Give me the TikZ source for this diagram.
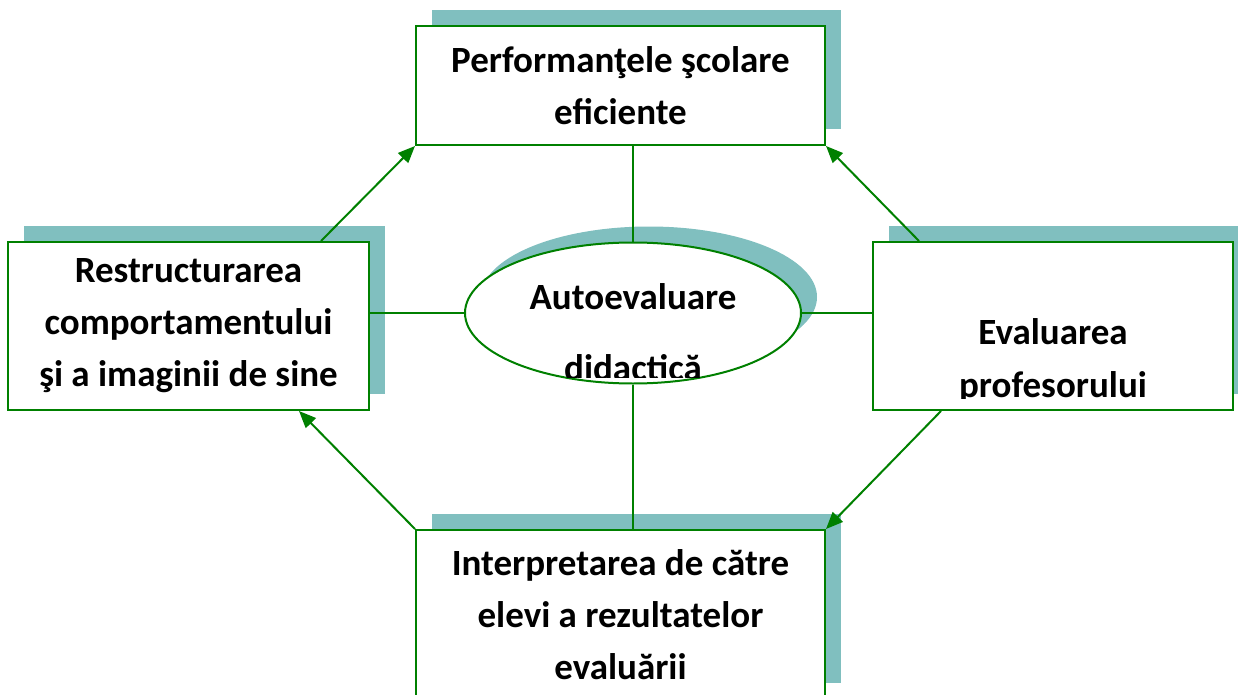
\documentclass[tikz,border=0pt]{standalone}
\usepackage{fontspec}
\setmainfont{Carlito}
\usetikzlibrary{arrows.meta,shadows,shapes.geometric}
\definecolor{shadowteal}{RGB}{128,191,191}
\definecolor{linegreen}{RGB}{0,128,0}
\begin{document}
\begin{tikzpicture}[x=1pt, y=-1pt,
        box/.style={rectangle, draw=linegreen, line width=2pt, fill=white, inner sep=0pt,
            align=center, font=\fontsize{37}{52}\selectfont\bfseries,
            drop shadow={shadow xshift=16pt, shadow yshift=16pt, fill=shadowteal, opacity=1, draw=none}},
        oval/.style={ellipse, draw=linegreen, line width=2pt, fill=white, inner sep=0pt,
            drop shadow={shadow xshift=16pt, shadow yshift=16pt, fill=shadowteal, opacity=1, draw=none}},
        label/.style={align=center, inner sep=0pt, anchor=base},
        link/.style={draw=linegreen, line width=2pt},
        arrow/.style={link, -{Triangle[length=17pt, width=14pt]}}
    ]
        \useasboundingbox (0,0) rectangle (1238,695);

        % Boxes
        \node[box, minimum width=409pt, minimum height=119pt] (perf) at (620.5,85.5)
            {Performanţele şcolare\\eficiente};
        \node[box, minimum width=361pt, minimum height=168pt] (restr) at (188.5,326)
            {Restructurarea\\comportamentului\\şi a imaginii de sine};
        \node[box, minimum width=360pt, minimum height=168pt] (eval) at (1053,326) {};
        \node[box, minimum width=409pt, minimum height=169pt] (interp) at (620.5,614.5)
            {Interpretarea de către\\elevi a rezultatelor\\evaluării};

        % Centre
        \node[oval, minimum width=336pt, minimum height=141pt] (auto) at (633,313) {};

        % Clipped texts (anchor on the last line)
        \begin{scope}
            \clip (465,230) rectangle (801,377);
            \node[label, font=\fontsize{37}{71}\selectfont\bfseries] (autotext) at (633,380)
                {Autoevaluare\\didactică};
        \end{scope}
        \begin{scope}
            \clip (873,242) rectangle (1233,398);
            \node[label, font=\fontsize{37}{53}\selectfont\bfseries] (evaltext) at (1053,397)
                {Evaluarea\\profesorului};
        \end{scope}

        % Links to the centre
        \draw[link] (auto.north |- perf.south) -- (auto.north);
        \draw[link] (auto.south) -- (auto.south |- interp.north);
        \draw[link] (restr.east |- auto.west) -- (auto.west);
        \draw[link] (auto.east) -- (eval.west |- auto.east);

        % Arrows
        \draw[arrow] ([xshift=-49pt]restr.north east) -- (perf.south west);
        \draw[arrow] ([xshift=47pt]eval.north west) -- (perf.south east);
        \draw[arrow] ([xshift=69pt]eval.south west) -- (interp.north east);
        \draw[arrow] (interp.north west) -- ([xshift=-71pt]restr.south east);
    \end{tikzpicture}
\end{document}
